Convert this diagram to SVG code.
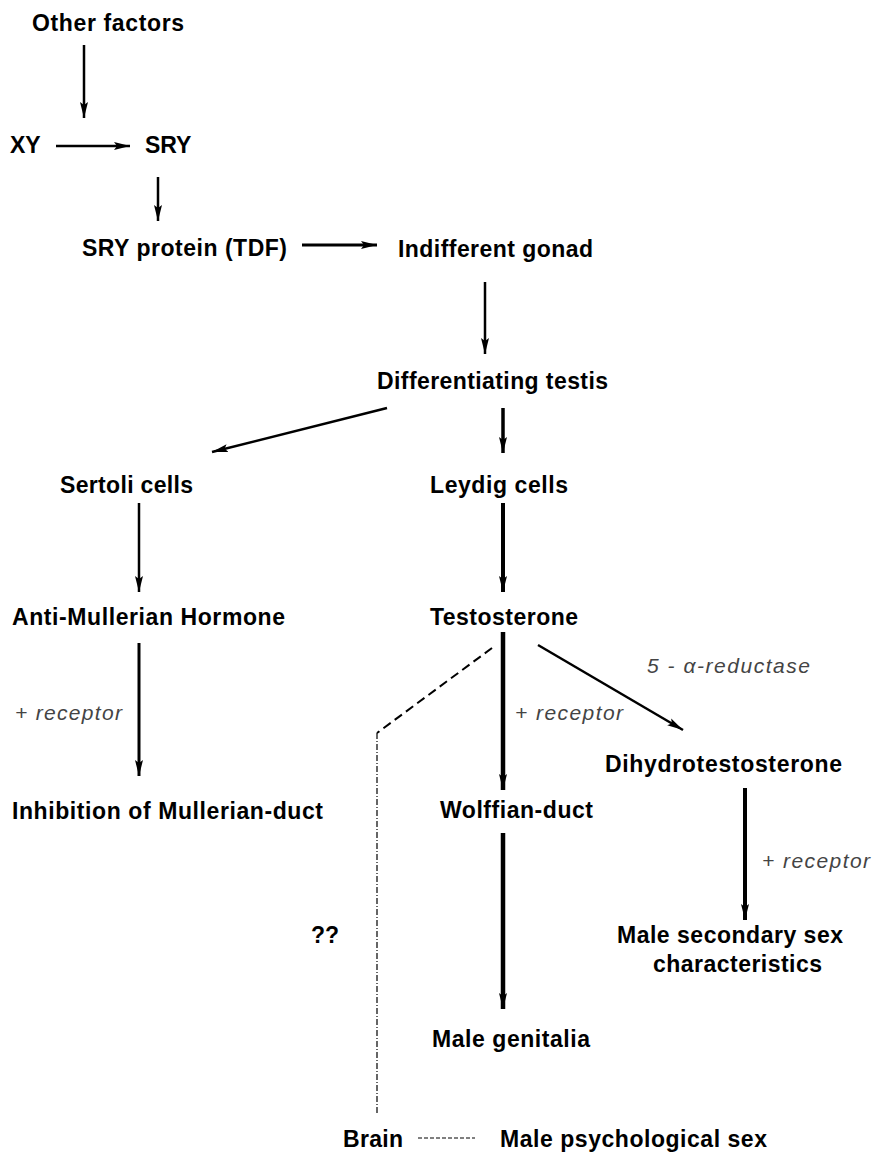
<svg xmlns="http://www.w3.org/2000/svg" width="874" height="1152" viewBox="0 0 874 1152">
<style>
.n{font-family:"Liberation Sans",Arial,sans-serif;font-weight:bold;font-size:23px;fill:#000}
.l{font-family:"Liberation Sans",Arial,sans-serif;font-style:italic;font-size:21px;fill:#444}
.c{stroke:#000;fill:none;stroke-linecap:butt}
</style>
<defs>
<marker id="ah" viewBox="0 0 16 10" refX="16" refY="5" markerWidth="16" markerHeight="10" markerUnits="userSpaceOnUse" orient="auto">
<path d="M0,1 L16,5 L0,9 L3,5 z" fill="#000"/>
</marker>
</defs>
<rect width="874" height="1152" fill="#fff"/>
<g id="connectors">
<line class="c" x1="84" y1="45" x2="84" y2="118" stroke-width="2.5" marker-end="url(#ah)"/>
<line class="c" x1="56" y1="146" x2="130" y2="146" stroke-width="2.5" marker-end="url(#ah)"/>
<line class="c" x1="158" y1="177" x2="158" y2="221" stroke-width="2.5" marker-end="url(#ah)"/>
<line class="c" x1="302" y1="245" x2="377" y2="245" stroke-width="3" marker-end="url(#ah)"/>
<line class="c" x1="485" y1="282" x2="485" y2="354" stroke-width="2.5" marker-end="url(#ah)"/>
<line class="c" x1="387" y1="408" x2="212" y2="452" stroke-width="2.5" marker-end="url(#ah)"/>
<line class="c" x1="503" y1="408" x2="503" y2="453" stroke-width="3.5" marker-end="url(#ah)"/>
<line class="c" x1="139" y1="503" x2="139" y2="592" stroke-width="2.5" marker-end="url(#ah)"/>
<line class="c" x1="503" y1="503" x2="503" y2="592" stroke-width="4" marker-end="url(#ah)"/>
<line class="c" x1="139" y1="643" x2="139" y2="776" stroke-width="3" marker-end="url(#ah)"/>
<line class="c" x1="503" y1="632" x2="503" y2="790" stroke-width="4.5" marker-end="url(#ah)"/>
<line class="c" x1="538" y1="645" x2="683" y2="730" stroke-width="2.5" marker-end="url(#ah)"/>
<line class="c" x1="745" y1="788" x2="745" y2="920" stroke-width="4" marker-end="url(#ah)"/>
<line class="c" x1="503" y1="833" x2="503" y2="1009" stroke-width="4.5" marker-end="url(#ah)"/>
<line class="c" x1="492" y1="648" x2="377" y2="733" stroke-width="2" stroke-dasharray="9,5"/>
<line class="c" x1="377" y1="733" x2="377" y2="1113" stroke-width="1.2" stroke-dasharray="6,2,1,2"/>
<line class="c" x1="418" y1="1138" x2="475" y2="1138" stroke-width="1" stroke-dasharray="4,2"/>
</g>
<g id="other-factors"><text class="n" x="32" y="31" textLength="152" lengthAdjust="spacing">Other factors</text></g>
<g id="xy"><text class="n" x="10" y="153">XY</text></g>
<g id="sry"><text class="n" x="145" y="153">SRY</text></g>
<g id="sry-protein"><text class="n" x="82" y="256" textLength="205" lengthAdjust="spacing">SRY protein (TDF)</text></g>
<g id="indifferent-gonad"><text class="n" x="398" y="257" textLength="195" lengthAdjust="spacing">Indifferent gonad</text></g>
<g id="differentiating-testis"><text class="n" x="377" y="389" textLength="231" lengthAdjust="spacing">Differentiating testis</text></g>
<g id="sertoli"><text class="n" x="60" y="493" textLength="133" lengthAdjust="spacing">Sertoli cells</text></g>
<g id="leydig"><text class="n" x="430" y="493" textLength="138" lengthAdjust="spacing">Leydig cells</text></g>
<g id="amh"><text class="n" x="12" y="625" textLength="273" lengthAdjust="spacing">Anti-Mullerian Hormone</text></g>
<g id="testosterone"><text class="n" x="430" y="625" textLength="148" lengthAdjust="spacing">Testosterone</text></g>
<g id="inhibition"><text class="n" x="12" y="819" textLength="311" lengthAdjust="spacing">Inhibition of Mullerian-duct</text></g>
<g id="wolffian"><text class="n" x="440" y="818" textLength="153" lengthAdjust="spacing">Wolffian-duct</text></g>
<g id="dht"><text class="n" x="605" y="772" textLength="237" lengthAdjust="spacing">Dihydrotestosterone</text></g>
<g id="male-secondary"><text class="n" x="617" y="943" textLength="226" lengthAdjust="spacing">Male secondary sex</text><text class="n" x="653" y="972" textLength="169" lengthAdjust="spacing">characteristics</text></g>
<g id="unknown"><text class="n" x="311" y="943">??</text></g>
<g id="male-genitalia"><text class="n" x="432" y="1047" textLength="158" lengthAdjust="spacing">Male genitalia</text></g>
<g id="brain"><text class="n" x="343" y="1147" textLength="60" lengthAdjust="spacing">Brain</text></g>
<g id="male-psych"><text class="n" x="500" y="1147" textLength="267" lengthAdjust="spacing">Male psychological sex</text></g>
<g id="labels">
<text class="l" x="15" y="720" textLength="107" lengthAdjust="spacing">+ receptor</text>
<text class="l" x="515" y="720" textLength="108" lengthAdjust="spacing">+ receptor</text>
<text class="l" x="647" y="673" textLength="163" lengthAdjust="spacing">5 - α-reductase</text>
<text class="l" x="762" y="868" textLength="108" lengthAdjust="spacing">+ receptor</text>
</g>
</svg>
